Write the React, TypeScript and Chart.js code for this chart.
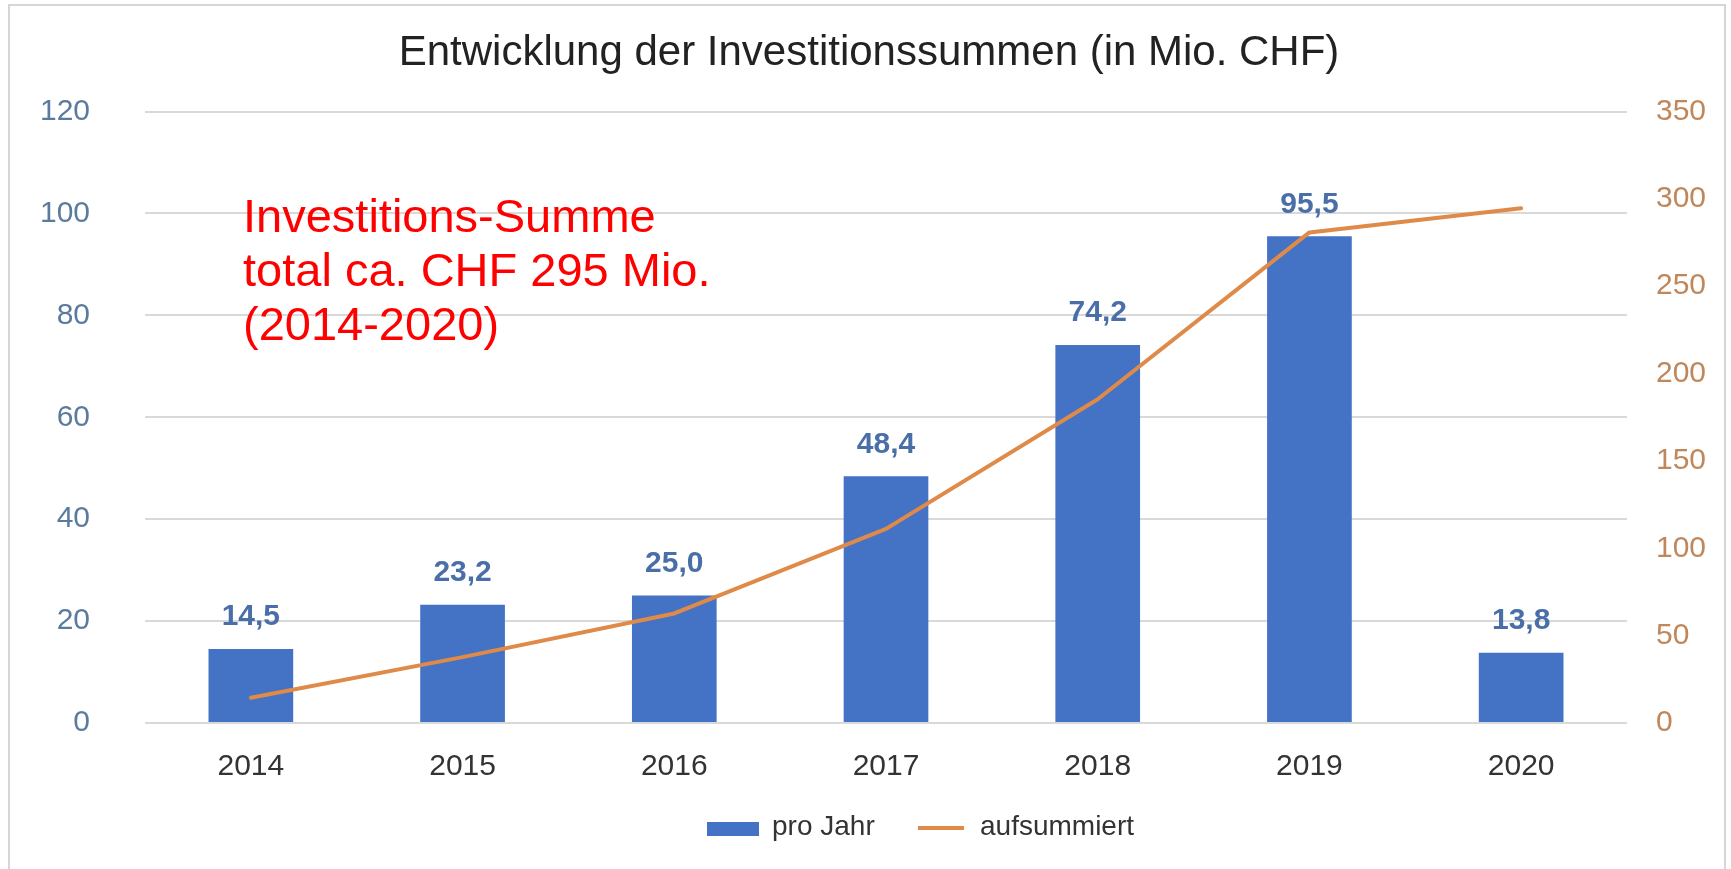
import React, { useEffect, useRef } from 'react';
import { Chart, registerables } from 'chart.js';

Chart.register(...registerables);

const years = ['2014', '2015', '2016', '2017', '2018', '2019', '2020'];
const proJahr = [14.5, 23.2, 25.0, 48.4, 74.2, 95.5, 13.8];
const aufsummiert = [14.5, 37.7, 62.7, 111.1, 185.3, 280.8, 294.6];
const leftAxisRange = [0, 120, 20];
const rightAxisRange = [0, 350, 50];
const titleText = 'Entwicklung der Investitionssummen (in Mio. CHF)';
const noteLines = ['Investitions-Summe', 'total ca. CHF 295 Mio.', '(2014-2020)'];
const seriesLabels = ['pro Jahr', 'aufsummiert'];

const FONT = '"Liberation Sans", Arial, Helvetica, sans-serif';
const BAR_COLOR = '#4472C4';
const LINE_COLOR = '#DF8A48';

const fmt = (v: number) => v.toFixed(1).replace('.', ',');

const decorPlugin = {
  id: 'decor',
  beforeDraw(chart: any) {
    const { ctx, width, height } = chart;
    ctx.save();
    ctx.fillStyle = '#ffffff';
    ctx.fillRect(0, 0, width, height);
    ctx.strokeStyle = '#d6d6d6';
    ctx.lineWidth = 2;
    ctx.beginPath();
    ctx.moveTo(9, height);
    ctx.lineTo(9, 5);
    ctx.lineTo(1725, 5);
    ctx.lineTo(1725, height);
    ctx.stroke();
    ctx.fillStyle = '#222222';
    ctx.font = `42px ${FONT}`;
    ctx.textAlign = 'center';
    ctx.textBaseline = 'middle';
    ctx.fillText(titleText, 869, 53);
    ctx.restore();
  },
  afterDatasetsDraw(chart: any) {
    const { ctx } = chart;
    const meta = chart.getDatasetMeta(1);
    const data = chart.data.datasets[1].data as number[];
    ctx.save();
    ctx.fillStyle = '#4A6FA8';
    ctx.font = `bold 30px ${FONT}`;
    ctx.textAlign = 'center';
    ctx.textBaseline = 'middle';
    meta.data.forEach((bar: any, i: number) => {
      ctx.fillText(fmt(data[i]), bar.x, bar.y - 32);
    });
    ctx.restore();
  },
  afterDraw(chart: any) {
    const { ctx } = chart;
    ctx.save();
    // red note
    ctx.fillStyle = '#FF0000';
    ctx.font = `47px ${FONT}`;
    ctx.textAlign = 'left';
    ctx.textBaseline = 'middle';
    noteLines.forEach((t, i) => ctx.fillText(t, 243, 219 + i * 54));
    // legend
    const barDs = chart.data.datasets[1];
    const lineDs = chart.data.datasets[0];
    ctx.fillStyle = barDs.backgroundColor;
    ctx.fillRect(707, 822, 52, 14);
    ctx.fillStyle = '#333333';
    ctx.font = `28px ${FONT}`;
    ctx.fillText(barDs.label, 772, 827);
    ctx.strokeStyle = lineDs.borderColor;
    ctx.lineWidth = 4;
    ctx.beginPath();
    ctx.moveTo(918, 828);
    ctx.lineTo(964, 828);
    ctx.stroke();
    ctx.fillText(lineDs.label, 980, 827);
    ctx.restore();
  },
};

export default function App() {
  const ref = useRef<HTMLCanvasElement | null>(null);

  useEffect(() => {
    document.body.style.margin = '0';
    const canvas = ref.current;
    if (!canvas) return;
    const chart = new Chart(canvas, {
      type: 'bar',
      data: {
        labels: years,
        datasets: [
          {
            type: 'line',
            label: seriesLabels[1],
            data: aufsummiert,
            yAxisID: 'y1',
            borderColor: LINE_COLOR,
            backgroundColor: LINE_COLOR,
            borderWidth: 4,
            pointRadius: 0,
            tension: 0,
            borderJoinStyle: 'round',
            borderCapStyle: 'round',
            order: 0,
          } as any,
          {
            type: 'bar',
            label: seriesLabels[0],
            data: proJahr,
            yAxisID: 'y',
            backgroundColor: BAR_COLOR,
            borderWidth: 0,
            categoryPercentage: 1,
            barPercentage: 0.4,
            order: 1,
          } as any,
        ],
      },
      options: {
        responsive: false,
        animation: false,
        devicePixelRatio: 1,
        layout: { padding: { top: 111.5, bottom: 86, left: 0, right: 0 } },
        plugins: {
          legend: { display: false },
          title: { display: false },
          tooltip: { enabled: false },
        },
        scales: {
          x: {
            grid: { display: false, drawTicks: false },
            border: { display: false },
            ticks: {
              color: '#333333',
              font: { family: FONT, size: 30 },
              padding: 26,
              maxRotation: 0,
              autoSkip: false,
            },
            afterFit: (s: any) => { s.height = 60; },
          },
          y: {
            position: 'left',
            min: leftAxisRange[0],
            max: leftAxisRange[1],
            grid: { color: '#d9d9d9', lineWidth: 2, drawTicks: false },
            border: { display: false },
            ticks: {
              stepSize: leftAxisRange[2],
              color: '#5B7B9E',
              font: { family: FONT, size: 30 },
              padding: 55,
            },
            afterFit: (s: any) => { s.width = 145; },
          },
          y1: {
            position: 'right',
            min: rightAxisRange[0],
            max: rightAxisRange[1],
            grid: { display: false, drawTicks: false },
            border: { display: false },
            ticks: {
              stepSize: rightAxisRange[2],
              color: '#C0875A',
              font: { family: FONT, size: 30 },
              padding: 29,
            },
            afterFit: (s: any) => { s.width = 104; },
          },
        },
      },
      plugins: [decorPlugin],
    });
    return () => chart.destroy();
  }, []);

  return (
    <div style={{ position: 'absolute', left: 0, top: 0, width: 1731, height: 869 }}>
      <canvas ref={ref} width={1731} height={869} style={{ width: 1731, height: 869, display: 'block' }} />
    </div>
  );
}
